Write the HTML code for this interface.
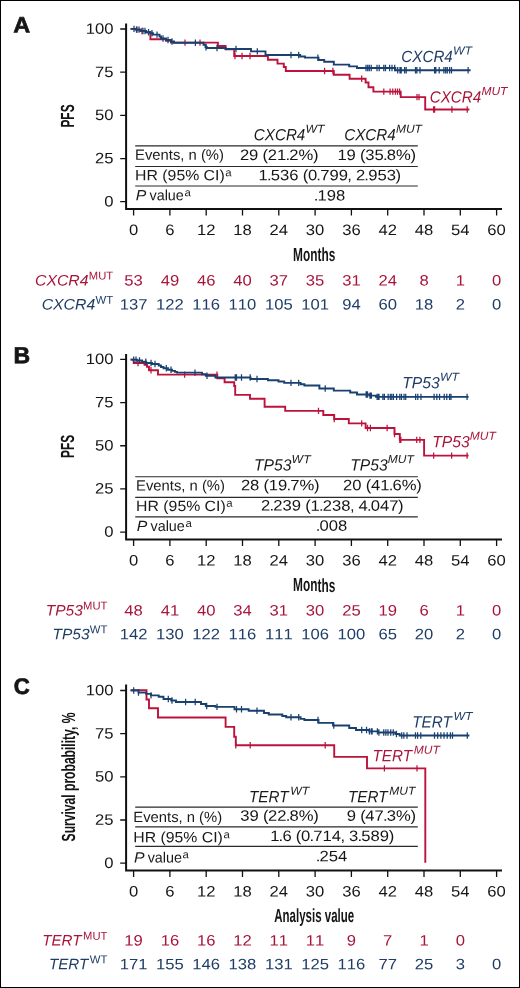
<!DOCTYPE html>
<html lang="en">
<head>
<meta charset="utf-8">
<title>Figure</title>
<style>
html,body{margin:0;padding:0;background:#fff;}
body{width:520px;height:988px;overflow:hidden;}
svg{display:block;will-change:transform;}
text{font-family:"Liberation Sans",sans-serif;font-size:15.1px;}
.pl{font-weight:bold;font-size:22.8px;stroke:#151515;stroke-width:0.7px;stroke-linejoin:round;}
.it{font-style:italic;}
.tb{font-size:14.8px;}
.lab{font-style:italic;font-size:16.2px;}
.rl{font-style:italic;font-size:15.2px;}
.sup{font-size:11.4px;font-style:normal;}
.supi{font-size:11.6px;font-style:italic;}
.cond{font-size:19px;font-weight:bold;}
</style>
</head>
<body>
<svg width="520" height="988" viewBox="0 0 520 988" fill="#151515">
<rect x="0.5" y="0.5" width="519" height="987" fill="#fff" stroke="#000" stroke-width="1"/>
<g>
<text class="pl" transform="translate(13.3 32.6) rotate(0.03) scale(1.03 0.975)">A</text>
<path d="M126.1 23.6V209H502" fill="none" stroke="#111" stroke-width="2"/>
<path d="M120.2 29H126.1M120.2 72.18H126.1M120.2 115.35H126.1M120.2 158.53H126.1M120.2 201.7H126.1M133.6 209V215.6M169.9 209V215.6M206.2 209V215.6M242.5 209V215.6M278.8 209V215.6M315.1 209V215.6M351.4 209V215.6M387.7 209V215.6M424 209V215.6M460.3 209V215.6M496.6 209V215.6" fill="none" stroke="#111" stroke-width="1.3"/>
<text transform="translate(85.75 33.7) rotate(0.03) scale(1.1018 1)" x="0 8.4 16.79">100</text>
<text transform="translate(95 76.88) rotate(0.03) scale(1.1018 1)" x="0 8.4">75</text>
<text transform="translate(95 120.05) rotate(0.03) scale(1.1018 1)" x="0 8.4">50</text>
<text transform="translate(95 163.22) rotate(0.03) scale(1.1018 1)" x="0 8.4">25</text>
<text transform="translate(104.25 206.4) rotate(0.03) scale(1.1018 1)" x="0">0</text>
<text transform="translate(128.97 235) rotate(0.03) scale(1.1018 1)" x="0">0</text>
<text transform="translate(165.27 235) rotate(0.03) scale(1.1018 1)" x="0">6</text>
<text transform="translate(196.95 235) rotate(0.03) scale(1.1018 1)" x="0 8.4">12</text>
<text transform="translate(233.25 235) rotate(0.03) scale(1.1018 1)" x="0 8.4">18</text>
<text transform="translate(269.55 235) rotate(0.03) scale(1.1018 1)" x="0 8.4">24</text>
<text transform="translate(305.85 235) rotate(0.03) scale(1.1018 1)" x="0 8.4">30</text>
<text transform="translate(342.15 235) rotate(0.03) scale(1.1018 1)" x="0 8.4">36</text>
<text transform="translate(378.45 235) rotate(0.03) scale(1.1018 1)" x="0 8.4">42</text>
<text transform="translate(414.75 235) rotate(0.03) scale(1.1018 1)" x="0 8.4">48</text>
<text transform="translate(451.05 235) rotate(0.03) scale(1.1018 1)" x="0 8.4">54</text>
<text transform="translate(487.35 235) rotate(0.03) scale(1.1018 1)" x="0 8.4">60</text>
<text x="314.2" y="261.4" transform="rotate(0.03 314.2 261.4)" class="cond" text-anchor="middle" textLength="42.2" lengthAdjust="spacingAndGlyphs">Months</text>
<text class="cond" text-anchor="middle" textLength="23.2" lengthAdjust="spacingAndGlyphs" transform="translate(74 116) rotate(-90.03)">PFS</text>
<path d="M130.6 28.9H132.8H136V29.6H140.5V31H146V32.2H150.4V39.3H160.5V39.3H161V39.3H166V40.9H171V42.65H217.9V46H225.6V49.3H234.2V56H267.9V59.8H277.5V63.6H283.8V67H285.8V71H333.8V74.8H349.6V78.7H365.6V82.5H368.5V87.2H373.4V91.6H400.7V97.1H425.2V109.5H469.4V109.5" fill="none" stroke="#bb133b" stroke-width="1.9"/>
<path d="M137 26.4V32.8M143 27.8V34.2M185 39.45V45.85M200 39.45V45.85M235 52.8V59.2M242 52.8V59.2M250 52.8V59.2M324.6 67.8V74.2M332.9 67.8V74.2M361.7 75.5V81.9M383.8 88.4V94.8M390.1 88.4V94.8M392.8 88.4V94.8M395.4 88.4V94.8M397.5 88.4V94.8M399.6 88.4V94.8M417 93.9V100.3M419 93.9V100.3M433.6 106.3V112.7M434.6 106.3V112.7M451.9 106.3V112.7M467.2 106.3V112.7" fill="none" stroke="#bb133b" stroke-width="1.25"/>
<path d="M130.6 28.9H132.8H136V29.6H140.5V31H146V32.2H150.5V33.2H153V34.6H159.5V36.5H161V38.5H166V40H171V41.5H174V42.8H203.5V44.8H205.5V47.2H207V48H225.6V49H251V51.4H265.5V55H300.2V56.5H305V57.6H318.5V60H324.2V61.7H333.8V64.6H349.2V66.4H357V68H395.4V70.3H470.6V70.3" fill="none" stroke="#19406f" stroke-width="1.9"/>
<path d="M134 25.7V32.1M136.5 26.4V32.8M139 26.4V32.8M142 27.8V34.2M145 27.8V34.2M148.5 29V35.4M152 30V36.4M157 31.4V37.8M163 35.3V41.7M168 36.8V43.2M172 38.3V44.7M195.4 39.6V46M206 44V50.4M217 44.8V51.2M236 45.8V52.2M257.3 48.2V54.6M291 51.8V58.2M298.7 51.8V58.2M317.9 54.4V60.8M366 64.8V71.2M367.7 64.8V71.2M369.3 64.8V71.2M371.2 64.8V71.2M377 64.8V71.2M379.2 64.8V71.2M383.8 64.8V71.2M385.5 64.8V71.2M389.6 64.8V71.2M392 64.8V71.2M394.7 64.8V71.2M397.7 67.1V73.5M400 67.1V73.5M401.2 67.1V73.5M404.6 67.1V73.5M406.2 67.1V73.5M415.5 67.1V73.5M416.9 67.1V73.5M420 67.1V73.5M434.6 67.1V73.5M435.8 67.1V73.5M439.2 67.1V73.5M443.9 67.1V73.5M445.7 67.1V73.5M447.3 67.1V73.5M449.6 67.1V73.5M451.5 67.1V73.5M468.1 67.1V73.5" fill="none" stroke="#19406f" stroke-width="1.25"/>
<text transform="translate(401.3 61.9) rotate(0.03)" fill="#1d3c66" class="lab"><tspan textLength="51.5" lengthAdjust="spacingAndGlyphs">CXCR4</tspan><tspan class="supi" dx="0.2" dy="-7.5" textLength="19" lengthAdjust="spacingAndGlyphs">WT</tspan></text>
<text transform="translate(429.7 102.4) rotate(0.03)" fill="#a8143a" class="lab"><tspan textLength="51.5" lengthAdjust="spacingAndGlyphs">CXCR4</tspan><tspan class="supi" dx="0.2" dy="-7.5" textLength="26" lengthAdjust="spacingAndGlyphs">MUT</tspan></text>
<path d="M135.2 145.9H417.8M135.2 166.5H417.8M135.2 186H417.8" fill="none" stroke="#2a2a2a" stroke-width="1.1"/>
<text transform="translate(253.8 140.2) rotate(0.03)" fill="#1a1a1a" class="lab"><tspan textLength="51.5" lengthAdjust="spacingAndGlyphs">CXCR4</tspan><tspan class="supi" dx="0.2" dy="-7.5" textLength="19" lengthAdjust="spacingAndGlyphs">WT</tspan></text>
<text transform="translate(344.2 140.2) rotate(0.03)" fill="#1a1a1a" class="lab"><tspan textLength="51.5" lengthAdjust="spacingAndGlyphs">CXCR4</tspan><tspan class="supi" dx="0.2" dy="-7.5" textLength="26" lengthAdjust="spacingAndGlyphs">MUT</tspan></text>
<text x="135.1" y="159.8" transform="rotate(0.03 135.1 159.8)" class="tb" fill="#1a1a1a" textLength="88.8" lengthAdjust="spacingAndGlyphs">Events, n (%)</text>
<text class="tb" transform="translate(135.1 180.2) rotate(0.03)" fill="#1a1a1a"><tspan textLength="89.6" lengthAdjust="spacingAndGlyphs">HR (95% CI)</tspan><tspan class="sup" dx="0.6" dy="-4.1">a</tspan></text>
<text class="tb" transform="translate(135.7 200.3) rotate(0.03)" fill="#1a1a1a"><tspan class="it" textLength="10.55" lengthAdjust="spacingAndGlyphs">P</tspan><tspan dx="3.25" textLength="34.3" lengthAdjust="spacingAndGlyphs">value</tspan><tspan class="sup" dx="0.6" dy="-4.1">a</tspan></text>
<text transform="translate(239.88 159.9) rotate(0.03) scale(1.1018 1)" x="0 8.4 16.78 20.63 25.32 33.72 41.38 44.84 53.24 66.33" font-size="15.1">29 (21.2%)</text>
<text transform="translate(337.38 159.9) rotate(0.03) scale(1.1018 1)" x="0 8.4 16.78 20.63 25.32 33.72 41.38 44.84 53.24 66.33" font-size="15.1">19 (35.8%)</text>
<text transform="translate(258.5 180.2) rotate(0.03) scale(1.1018 1)" x="0 7.66 11.12 19.51 27.91 36.29 40.14 44.84 52.5 55.96 64.35 72.75 80.59 84.22 88.4 96.06 99.52 107.92 116.31 124.37" font-size="15.1">1.536 (0.799, 2.953)</text>
<text transform="translate(314.43 200.4) rotate(0.03) scale(1.1018 1)" x="-0.74 2.72 11.12 19.51" font-size="15.1">.198</text>
<text transform="translate(35 285.5) rotate(0.03)" fill="#a8143a"><tspan class="rl" textLength="53.5" lengthAdjust="spacingAndGlyphs">CXCR4</tspan><tspan class="sup" dx="0.3" dy="-6" textLength="24.3" lengthAdjust="spacingAndGlyphs">MUT</tspan></text>
<text transform="translate(41.7 309.6) rotate(0.03)" fill="#1d3c66"><tspan class="rl" textLength="53.5" lengthAdjust="spacingAndGlyphs">CXCR4</tspan><tspan class="sup" dx="0.3" dy="-6" textLength="17.6" lengthAdjust="spacingAndGlyphs">WT</tspan></text>
<text transform="translate(124.35 285.5) rotate(0.03) scale(1.1018 1)" x="0 8.4" fill="#a8143a">53</text>
<text transform="translate(160.65 285.5) rotate(0.03) scale(1.1018 1)" x="0 8.4" fill="#a8143a">49</text>
<text transform="translate(196.95 285.5) rotate(0.03) scale(1.1018 1)" x="0 8.4" fill="#a8143a">46</text>
<text transform="translate(233.25 285.5) rotate(0.03) scale(1.1018 1)" x="0 8.4" fill="#a8143a">40</text>
<text transform="translate(269.55 285.5) rotate(0.03) scale(1.1018 1)" x="0 8.4" fill="#a8143a">37</text>
<text transform="translate(305.85 285.5) rotate(0.03) scale(1.1018 1)" x="0 8.4" fill="#a8143a">35</text>
<text transform="translate(342.15 285.5) rotate(0.03) scale(1.1018 1)" x="0 8.4" fill="#a8143a">31</text>
<text transform="translate(378.45 285.5) rotate(0.03) scale(1.1018 1)" x="0 8.4" fill="#a8143a">24</text>
<text transform="translate(419.38 285.5) rotate(0.03) scale(1.1018 1)" x="0" fill="#a8143a">8</text>
<text transform="translate(455.67 285.5) rotate(0.03) scale(1.1018 1)" x="0" fill="#a8143a">1</text>
<text transform="translate(491.98 285.5) rotate(0.03) scale(1.1018 1)" x="0" fill="#a8143a">0</text>
<text transform="translate(119.72 309.6) rotate(0.03) scale(1.1018 1)" x="0 8.4 16.79" fill="#1d3c66">137</text>
<text transform="translate(156.02 309.6) rotate(0.03) scale(1.1018 1)" x="0 8.4 16.79" fill="#1d3c66">122</text>
<text transform="translate(192.32 309.6) rotate(0.03) scale(1.1018 1)" x="0 8.4 16.79" fill="#1d3c66">116</text>
<text transform="translate(228.62 309.6) rotate(0.03) scale(1.1018 1)" x="0 8.4 16.79" fill="#1d3c66">110</text>
<text transform="translate(264.92 309.6) rotate(0.03) scale(1.1018 1)" x="0 8.4 16.79" fill="#1d3c66">105</text>
<text transform="translate(301.23 309.6) rotate(0.03) scale(1.1018 1)" x="0 8.4 16.79" fill="#1d3c66">101</text>
<text transform="translate(342.15 309.6) rotate(0.03) scale(1.1018 1)" x="0 8.4" fill="#1d3c66">94</text>
<text transform="translate(378.45 309.6) rotate(0.03) scale(1.1018 1)" x="0 8.4" fill="#1d3c66">60</text>
<text transform="translate(414.75 309.6) rotate(0.03) scale(1.1018 1)" x="0 8.4" fill="#1d3c66">18</text>
<text transform="translate(455.67 309.6) rotate(0.03) scale(1.1018 1)" x="0" fill="#1d3c66">2</text>
<text transform="translate(491.98 309.6) rotate(0.03) scale(1.1018 1)" x="0" fill="#1d3c66">0</text>
</g>
<g>
<text class="pl" transform="translate(13.45 363.2) rotate(0.03) scale(1.01 1.02)">B</text>
<path d="M126.1 354V539.4H502" fill="none" stroke="#111" stroke-width="2"/>
<path d="M120.2 359.4H126.1M120.2 402.57H126.1M120.2 445.75H126.1M120.2 488.92H126.1M120.2 532.1H126.1M133.6 539.4V546M169.9 539.4V546M206.2 539.4V546M242.5 539.4V546M278.8 539.4V546M315.1 539.4V546M351.4 539.4V546M387.7 539.4V546M424 539.4V546M460.3 539.4V546M496.6 539.4V546" fill="none" stroke="#111" stroke-width="1.3"/>
<text transform="translate(85.75 364.1) rotate(0.03) scale(1.1018 1)" x="0 8.4 16.79">100</text>
<text transform="translate(95 407.27) rotate(0.03) scale(1.1018 1)" x="0 8.4">75</text>
<text transform="translate(95 450.45) rotate(0.03) scale(1.1018 1)" x="0 8.4">50</text>
<text transform="translate(95 493.62) rotate(0.03) scale(1.1018 1)" x="0 8.4">25</text>
<text transform="translate(104.25 536.8) rotate(0.03) scale(1.1018 1)" x="0">0</text>
<text transform="translate(128.97 565.4) rotate(0.03) scale(1.1018 1)" x="0">0</text>
<text transform="translate(165.27 565.4) rotate(0.03) scale(1.1018 1)" x="0">6</text>
<text transform="translate(196.95 565.4) rotate(0.03) scale(1.1018 1)" x="0 8.4">12</text>
<text transform="translate(233.25 565.4) rotate(0.03) scale(1.1018 1)" x="0 8.4">18</text>
<text transform="translate(269.55 565.4) rotate(0.03) scale(1.1018 1)" x="0 8.4">24</text>
<text transform="translate(305.85 565.4) rotate(0.03) scale(1.1018 1)" x="0 8.4">30</text>
<text transform="translate(342.15 565.4) rotate(0.03) scale(1.1018 1)" x="0 8.4">36</text>
<text transform="translate(378.45 565.4) rotate(0.03) scale(1.1018 1)" x="0 8.4">42</text>
<text transform="translate(414.75 565.4) rotate(0.03) scale(1.1018 1)" x="0 8.4">48</text>
<text transform="translate(451.05 565.4) rotate(0.03) scale(1.1018 1)" x="0 8.4">54</text>
<text transform="translate(487.35 565.4) rotate(0.03) scale(1.1018 1)" x="0 8.4">60</text>
<text x="314.2" y="591.5" transform="rotate(0.03 314.2 591.5)" class="cond" text-anchor="middle" textLength="42.2" lengthAdjust="spacingAndGlyphs">Months</text>
<text class="cond" text-anchor="middle" textLength="23.2" lengthAdjust="spacingAndGlyphs" transform="translate(74 446.4) rotate(-90.03)">PFS</text>
<path d="M130.6 359.65H132.8H133.7V362.95H144.5V364.75H147V366.75H149V370.25H158V374.65H217.3V378.25H224.6V382.25H234.2V386.05H235.2V394.85H250V398.75H264.6V406.75H285.2V410.85H323.3V415.05H334.2V418.95H348.8V423.35H365.6V428.05H394.5V434.05H399.8V439.85H424.1V455.65H468.6V455.65" fill="none" stroke="#bb133b" stroke-width="1.9"/>
<path d="M138 359.75V366.15M151 367.05V373.45M184.6 371.45V377.85M217 371.45V377.85M318.5 407.65V414.05M334.2 415.75V422.15M361.7 420.15V426.55M367.5 424.85V431.25M370.4 424.85V431.25M387.12 424.85V431.25M394.52 430.85V437.25M399.81 436.65V443.05M400.87 436.65V443.05M416.73 436.65V443.05M419.91 436.65V443.05M433.66 452.45V458.85M451.64 452.45V458.85M467.08 452.45V458.85" fill="none" stroke="#bb133b" stroke-width="1.25"/>
<path d="M130.6 359.65H132.8H137V360.55H142V361.75H146.2V362.95H152V364.05H158.7V365.45H161V367.05H163.5V368.25H168V369.75H172V370.85H175V371.85H177V372.65H202V374.25H205.8V375.75H215.4V377.55H250.6V378.95H267.9V380.25H278.5V381.45H284.2V382.85H300.6V384.25H304.4V385.55H319.4V388.55H333.8V390.65H350.2V392.55H357V394.45H369.4V395.65H376V396.85H468.6V396.85" fill="none" stroke="#19406f" stroke-width="1.9"/>
<path d="M367 391.25V397.65M371 392.45V398.85M379 393.65V400.05M384.4 393.65V400.05M133.7 356.45V362.85M136 356.45V362.85M139.5 357.35V363.75M145.8 358.55V364.95M151 359.75V366.15M155 360.85V367.25M166.3 365.05V371.45M171 366.55V372.95M195 369.45V375.85M207 372.55V378.95M235.2 374.35V380.75M236.5 374.35V380.75M241.5 374.35V380.75M250.2 374.35V380.75M257 375.75V382.15M291 379.65V386.05M298.7 379.65V386.05M325.2 385.35V391.75M366.15 391.25V397.65M367.5 391.25V397.65M370 392.45V398.85M371.35 392.45V398.85M377.12 393.65V400.05M378.46 393.65V400.05M382.88 393.65V400.05M388.17 393.65V400.05M390.29 393.65V400.05M391.77 393.65V400.05M393.46 393.65V400.05M396.64 393.65V400.05M399.81 393.65V400.05M401.5 393.65V400.05M404.04 393.65V400.05M405.73 393.65V400.05M415.67 393.65V400.05M417.79 393.65V400.05M420.96 393.65V400.05M434.08 393.65V400.05M436.83 393.65V400.05M439.58 393.65V400.05M444.23 393.65V400.05M446.77 393.65V400.05M449.52 393.65V400.05M451 393.65V400.05M467.08 393.65V400.05" fill="none" stroke="#19406f" stroke-width="1.25"/>
<text transform="translate(402.3 388.3) rotate(0.03)" fill="#1d3c66" class="lab"><tspan textLength="37.4" lengthAdjust="spacingAndGlyphs">TP53</tspan><tspan class="supi" dx="0.2" dy="-7.5" textLength="19" lengthAdjust="spacingAndGlyphs">WT</tspan></text>
<text transform="translate(432.2 447.3) rotate(0.03)" fill="#a8143a" class="lab"><tspan textLength="37.4" lengthAdjust="spacingAndGlyphs">TP53</tspan><tspan class="supi" dx="0.2" dy="-7.5" textLength="26" lengthAdjust="spacingAndGlyphs">MUT</tspan></text>
<path d="M135.2 476.8H417.8M135.2 497.4H417.8M135.2 516.9H417.8" fill="none" stroke="#2a2a2a" stroke-width="1.1"/>
<text transform="translate(254 470.6) rotate(0.03)" fill="#1a1a1a" class="lab"><tspan textLength="37.4" lengthAdjust="spacingAndGlyphs">TP53</tspan><tspan class="supi" dx="0.2" dy="-7.5" textLength="19" lengthAdjust="spacingAndGlyphs">WT</tspan></text>
<text transform="translate(350.2 470.6) rotate(0.03)" fill="#1a1a1a" class="lab"><tspan textLength="37.4" lengthAdjust="spacingAndGlyphs">TP53</tspan><tspan class="supi" dx="0.2" dy="-7.5" textLength="26" lengthAdjust="spacingAndGlyphs">MUT</tspan></text>
<text x="136.1" y="490.5" transform="rotate(0.03 136.1 490.5)" class="tb" fill="#1a1a1a" textLength="88.8" lengthAdjust="spacingAndGlyphs">Events, n (%)</text>
<text class="tb" transform="translate(136.1 510.9) rotate(0.03)" fill="#1a1a1a"><tspan textLength="89.6" lengthAdjust="spacingAndGlyphs">HR (95% CI)</tspan><tspan class="sup" dx="0.6" dy="-4.1">a</tspan></text>
<text class="tb" transform="translate(136.7 531) rotate(0.03)" fill="#1a1a1a"><tspan class="it" textLength="10.55" lengthAdjust="spacingAndGlyphs">P</tspan><tspan dx="3.25" textLength="34.3" lengthAdjust="spacingAndGlyphs">value</tspan><tspan class="sup" dx="0.6" dy="-4.1">a</tspan></text>
<text transform="translate(240.88 490.3) rotate(0.03) scale(1.1018 1)" x="0 8.4 16.78 20.63 25.32 33.72 41.38 44.84 53.24 66.33" font-size="15.1">28 (19.7%)</text>
<text transform="translate(343.07 490.3) rotate(0.03) scale(1.1018 1)" x="0 8.4 16.78 20.63 25.32 33.72 41.38 44.84 53.24 66.33" font-size="15.1">20 (41.6%)</text>
<text transform="translate(261.1 510.6) rotate(0.03) scale(1.1018 1)" x="0 7.66 11.12 19.51 27.91 36.29 40.14 44.84 52.5 55.96 64.35 72.75 80.59 84.22 88.4 96.06 99.52 107.92 116.31 124.37" font-size="15.1">2.239 (1.238, 4.047)</text>
<text transform="translate(316.62 530.8) rotate(0.03) scale(1.1018 1)" x="-0.74 2.72 11.12 19.51" font-size="15.1">.008</text>
<text transform="translate(45.8 615.5) rotate(0.03)" fill="#a8143a"><tspan class="rl" textLength="37" lengthAdjust="spacingAndGlyphs">TP53</tspan><tspan class="sup" dx="0.3" dy="-6" textLength="24.3" lengthAdjust="spacingAndGlyphs">MUT</tspan></text>
<text transform="translate(52.5 639.3) rotate(0.03)" fill="#1d3c66"><tspan class="rl" textLength="37" lengthAdjust="spacingAndGlyphs">TP53</tspan><tspan class="sup" dx="0.3" dy="-6" textLength="17.6" lengthAdjust="spacingAndGlyphs">WT</tspan></text>
<text transform="translate(124.35 615.5) rotate(0.03) scale(1.1018 1)" x="0 8.4" fill="#a8143a">48</text>
<text transform="translate(160.65 615.5) rotate(0.03) scale(1.1018 1)" x="0 8.4" fill="#a8143a">41</text>
<text transform="translate(196.95 615.5) rotate(0.03) scale(1.1018 1)" x="0 8.4" fill="#a8143a">40</text>
<text transform="translate(233.25 615.5) rotate(0.03) scale(1.1018 1)" x="0 8.4" fill="#a8143a">34</text>
<text transform="translate(269.55 615.5) rotate(0.03) scale(1.1018 1)" x="0 8.4" fill="#a8143a">31</text>
<text transform="translate(305.85 615.5) rotate(0.03) scale(1.1018 1)" x="0 8.4" fill="#a8143a">30</text>
<text transform="translate(342.15 615.5) rotate(0.03) scale(1.1018 1)" x="0 8.4" fill="#a8143a">25</text>
<text transform="translate(378.45 615.5) rotate(0.03) scale(1.1018 1)" x="0 8.4" fill="#a8143a">19</text>
<text transform="translate(419.38 615.5) rotate(0.03) scale(1.1018 1)" x="0" fill="#a8143a">6</text>
<text transform="translate(455.67 615.5) rotate(0.03) scale(1.1018 1)" x="0" fill="#a8143a">1</text>
<text transform="translate(491.98 615.5) rotate(0.03) scale(1.1018 1)" x="0" fill="#a8143a">0</text>
<text transform="translate(119.72 639.3) rotate(0.03) scale(1.1018 1)" x="0 8.4 16.79" fill="#1d3c66">142</text>
<text transform="translate(156.02 639.3) rotate(0.03) scale(1.1018 1)" x="0 8.4 16.79" fill="#1d3c66">130</text>
<text transform="translate(192.32 639.3) rotate(0.03) scale(1.1018 1)" x="0 8.4 16.79" fill="#1d3c66">122</text>
<text transform="translate(228.62 639.3) rotate(0.03) scale(1.1018 1)" x="0 8.4 16.79" fill="#1d3c66">116</text>
<text transform="translate(264.92 639.3) rotate(0.03) scale(1.1018 1)" x="0 8.4 16.79" fill="#1d3c66">111</text>
<text transform="translate(301.23 639.3) rotate(0.03) scale(1.1018 1)" x="0 8.4 16.79" fill="#1d3c66">106</text>
<text transform="translate(337.52 639.3) rotate(0.03) scale(1.1018 1)" x="0 8.4 16.79" fill="#1d3c66">100</text>
<text transform="translate(378.45 639.3) rotate(0.03) scale(1.1018 1)" x="0 8.4" fill="#1d3c66">65</text>
<text transform="translate(414.75 639.3) rotate(0.03) scale(1.1018 1)" x="0 8.4" fill="#1d3c66">20</text>
<text transform="translate(455.67 639.3) rotate(0.03) scale(1.1018 1)" x="0" fill="#1d3c66">2</text>
<text transform="translate(491.98 639.3) rotate(0.03) scale(1.1018 1)" x="0" fill="#1d3c66">0</text>
</g>
<g>
<text class="pl" transform="translate(13.75 693.95) rotate(0.03) scale(0.975 0.99)">C</text>
<path d="M126.1 684.4V870.5H502" fill="none" stroke="#111" stroke-width="2"/>
<path d="M120.2 690.5H126.1M120.2 733.67H126.1M120.2 776.85H126.1M120.2 820.02H126.1M120.2 863.2H126.1M133.6 870.5V877.1M169.9 870.5V877.1M206.2 870.5V877.1M242.5 870.5V877.1M278.8 870.5V877.1M315.1 870.5V877.1M351.4 870.5V877.1M387.7 870.5V877.1M424 870.5V877.1M460.3 870.5V877.1M496.6 870.5V877.1" fill="none" stroke="#111" stroke-width="1.3"/>
<text transform="translate(85.75 695.2) rotate(0.03) scale(1.1018 1)" x="0 8.4 16.79">100</text>
<text transform="translate(95 738.38) rotate(0.03) scale(1.1018 1)" x="0 8.4">75</text>
<text transform="translate(95 781.55) rotate(0.03) scale(1.1018 1)" x="0 8.4">50</text>
<text transform="translate(95 824.73) rotate(0.03) scale(1.1018 1)" x="0 8.4">25</text>
<text transform="translate(104.25 867.9) rotate(0.03) scale(1.1018 1)" x="0">0</text>
<text transform="translate(128.97 896.5) rotate(0.03) scale(1.1018 1)" x="0">0</text>
<text transform="translate(165.27 896.5) rotate(0.03) scale(1.1018 1)" x="0">6</text>
<text transform="translate(196.95 896.5) rotate(0.03) scale(1.1018 1)" x="0 8.4">12</text>
<text transform="translate(233.25 896.5) rotate(0.03) scale(1.1018 1)" x="0 8.4">18</text>
<text transform="translate(269.55 896.5) rotate(0.03) scale(1.1018 1)" x="0 8.4">24</text>
<text transform="translate(305.85 896.5) rotate(0.03) scale(1.1018 1)" x="0 8.4">30</text>
<text transform="translate(342.15 896.5) rotate(0.03) scale(1.1018 1)" x="0 8.4">36</text>
<text transform="translate(378.45 896.5) rotate(0.03) scale(1.1018 1)" x="0 8.4">42</text>
<text transform="translate(414.75 896.5) rotate(0.03) scale(1.1018 1)" x="0 8.4">48</text>
<text transform="translate(451.05 896.5) rotate(0.03) scale(1.1018 1)" x="0 8.4">54</text>
<text transform="translate(487.35 896.5) rotate(0.03) scale(1.1018 1)" x="0 8.4">60</text>
<text x="314.2" y="922.3" transform="rotate(0.03 314.2 922.3)" class="cond" text-anchor="middle" textLength="80" lengthAdjust="spacingAndGlyphs">Analysis value</text>
<text class="cond" text-anchor="middle" textLength="128.8" lengthAdjust="spacingAndGlyphs" transform="translate(75.4 777) rotate(-90.03)">Survival probability, %</text>
<path d="M130.6 690.15H132.8H146.5V699.55H149V708.25H158V717.55H225.6V726.85H234.2V736.75H235.8V745.25H334.2V756.85H367V768.35H425.3V862.85" fill="none" stroke="#bb133b" stroke-width="1.9"/>
<path d="M235.8 742.05V748.45M250.2 742.05V748.45M325.2 742.05V748.45M384.4 765.15V771.55M417 765.15V771.55" fill="none" stroke="#bb133b" stroke-width="1.25"/>
<path d="M130.6 690.55H132.8H138.5V692.55H146.2V693.85H151V695.35H158.7V696.75H163.5V699.05H171.2V700.55H176V702.05H201V704.05H205.8V705.95H215.4V706.85H234.5V709.25H248.7V710.75H264V713.05H268.8V714.55H282.3V715.95H286.2V717.25H300.6V718.85H304.4V720.05H318.5V722.85H333V725.55H349.2V728.05H356V729.95H369.4V731.35H378V732.55H395.4V733.95H399.6V735.45H469.4V735.45" fill="none" stroke="#19406f" stroke-width="1.9"/>
<path d="M133.7 687.35V693.75M138.5 689.35V695.75M151 692.15V698.55M168.3 695.85V702.25M172 697.35V703.75M185.6 698.85V705.25M195.2 698.85V705.25M206.7 702.75V709.15M217 703.65V710.05M236.5 706.05V712.45M241.5 706.05V712.45M257 707.55V713.95M291 714.05V720.45M298.7 714.05V720.45M318 716.85V723.25M333.8 722.35V728.75M361.73 726.75V733.15M366.54 726.75V733.15M369.42 728.15V734.55M371.35 728.15V734.55M372.12 728.15V734.55M377.4 728.15V734.55M378.89 729.35V735.75M383.75 729.35V735.75M385.87 729.35V735.75M387.98 729.35V735.75M390.73 729.35V735.75M393.27 729.35V735.75M396.44 730.75V737.15M401.73 732.25V738.65M403.85 732.25V738.65M407.02 732.25V738.65M415.48 732.25V738.65M417.6 732.25V738.65M420.77 732.25V738.65M434.52 732.25V738.65M437.7 732.25V738.65M440.87 732.25V738.65M444.04 732.25V738.65M447.22 732.25V738.65M450.39 732.25V738.65M452.5 732.25V738.65M467.31 732.25V738.65" fill="none" stroke="#19406f" stroke-width="1.25"/>
<text transform="translate(412.2 727.5) rotate(0.03)" fill="#1d3c66" class="lab"><tspan textLength="39.5" lengthAdjust="spacingAndGlyphs">TERT</tspan><tspan class="supi" dx="1.8" dy="-7.5" textLength="19" lengthAdjust="spacingAndGlyphs">WT</tspan></text>
<text transform="translate(372.5 761.3) rotate(0.03)" fill="#a8143a" class="lab"><tspan textLength="39.5" lengthAdjust="spacingAndGlyphs">TERT</tspan><tspan class="supi" dx="1.8" dy="-7.5" textLength="26" lengthAdjust="spacingAndGlyphs">MUT</tspan></text>
<path d="M135.2 807.1H417.8M135.2 826.9H417.8M135.2 846.4H417.8" fill="none" stroke="#2a2a2a" stroke-width="1.1"/>
<text transform="translate(249 802.2) rotate(0.03)" fill="#1a1a1a" class="lab"><tspan textLength="39.5" lengthAdjust="spacingAndGlyphs">TERT</tspan><tspan class="supi" dx="1.8" dy="-7.5" textLength="19" lengthAdjust="spacingAndGlyphs">WT</tspan></text>
<text transform="translate(348 802.2) rotate(0.03)" fill="#1a1a1a" class="lab"><tspan textLength="39.5" lengthAdjust="spacingAndGlyphs">TERT</tspan><tspan class="supi" dx="1.8" dy="-7.5" textLength="26" lengthAdjust="spacingAndGlyphs">MUT</tspan></text>
<text x="133.3" y="821.9" transform="rotate(0.03 133.3 821.9)" class="tb" fill="#1a1a1a" textLength="88.8" lengthAdjust="spacingAndGlyphs">Events, n (%)</text>
<text class="tb" transform="translate(133.3 842.3) rotate(0.03)" fill="#1a1a1a"><tspan textLength="89.6" lengthAdjust="spacingAndGlyphs">HR (95% CI)</tspan><tspan class="sup" dx="0.6" dy="-4.1">a</tspan></text>
<text class="tb" transform="translate(133.9 862.4) rotate(0.03)" fill="#1a1a1a"><tspan class="it" textLength="10.55" lengthAdjust="spacingAndGlyphs">P</tspan><tspan dx="3.25" textLength="34.3" lengthAdjust="spacingAndGlyphs">value</tspan><tspan class="sup" dx="0.6" dy="-4.1">a</tspan></text>
<text transform="translate(240.18 820.7) rotate(0.03) scale(1.1018 1)" x="0 8.4 16.78 20.63 25.32 33.72 41.38 44.84 53.24 66.33" font-size="15.1">39 (22.8%)</text>
<text transform="translate(346.7 820.7) rotate(0.03) scale(1.1018 1)" x="0 8.38 12.23 16.93 25.32 32.98 36.44 44.84 57.93" font-size="15.1">9 (47.3%)</text>
<text transform="translate(270.15 841) rotate(0.03) scale(1.1018 1)" x="0 7.66 11.12 19.5 23.35 28.05 35.7 39.16 47.56 55.96 63.8 67.43 71.61 79.27 82.73 91.13 99.52 107.58" font-size="15.1">1.6 (0.714, 3.589)</text>
<text transform="translate(316.62 861.2) rotate(0.03) scale(1.1018 1)" x="-0.74 2.72 11.12 19.51" font-size="15.1">.254</text>
<text transform="translate(42.3 945.6) rotate(0.03)" fill="#a8143a"><tspan class="rl" textLength="39.2" lengthAdjust="spacingAndGlyphs">TERT</tspan><tspan class="sup" dx="1.6" dy="-6" textLength="24.3" lengthAdjust="spacingAndGlyphs">MUT</tspan></text>
<text transform="translate(49 969.3) rotate(0.03)" fill="#1d3c66"><tspan class="rl" textLength="39.2" lengthAdjust="spacingAndGlyphs">TERT</tspan><tspan class="sup" dx="1.6" dy="-6" textLength="17.6" lengthAdjust="spacingAndGlyphs">WT</tspan></text>
<text transform="translate(124.35 945.6) rotate(0.03) scale(1.1018 1)" x="0 8.4" fill="#a8143a">19</text>
<text transform="translate(160.65 945.6) rotate(0.03) scale(1.1018 1)" x="0 8.4" fill="#a8143a">16</text>
<text transform="translate(196.95 945.6) rotate(0.03) scale(1.1018 1)" x="0 8.4" fill="#a8143a">16</text>
<text transform="translate(233.25 945.6) rotate(0.03) scale(1.1018 1)" x="0 8.4" fill="#a8143a">12</text>
<text transform="translate(269.55 945.6) rotate(0.03) scale(1.1018 1)" x="0 8.4" fill="#a8143a">11</text>
<text transform="translate(305.85 945.6) rotate(0.03) scale(1.1018 1)" x="0 8.4" fill="#a8143a">11</text>
<text transform="translate(346.77 945.6) rotate(0.03) scale(1.1018 1)" x="0" fill="#a8143a">9</text>
<text transform="translate(383.07 945.6) rotate(0.03) scale(1.1018 1)" x="0" fill="#a8143a">7</text>
<text transform="translate(419.38 945.6) rotate(0.03) scale(1.1018 1)" x="0" fill="#a8143a">1</text>
<text transform="translate(455.67 945.6) rotate(0.03) scale(1.1018 1)" x="0" fill="#a8143a">0</text>
<text transform="translate(119.72 969.3) rotate(0.03) scale(1.1018 1)" x="0 8.4 16.79" fill="#1d3c66">171</text>
<text transform="translate(156.02 969.3) rotate(0.03) scale(1.1018 1)" x="0 8.4 16.79" fill="#1d3c66">155</text>
<text transform="translate(192.32 969.3) rotate(0.03) scale(1.1018 1)" x="0 8.4 16.79" fill="#1d3c66">146</text>
<text transform="translate(228.62 969.3) rotate(0.03) scale(1.1018 1)" x="0 8.4 16.79" fill="#1d3c66">138</text>
<text transform="translate(264.92 969.3) rotate(0.03) scale(1.1018 1)" x="0 8.4 16.79" fill="#1d3c66">131</text>
<text transform="translate(301.23 969.3) rotate(0.03) scale(1.1018 1)" x="0 8.4 16.79" fill="#1d3c66">125</text>
<text transform="translate(337.52 969.3) rotate(0.03) scale(1.1018 1)" x="0 8.4 16.79" fill="#1d3c66">116</text>
<text transform="translate(378.45 969.3) rotate(0.03) scale(1.1018 1)" x="0 8.4" fill="#1d3c66">77</text>
<text transform="translate(414.75 969.3) rotate(0.03) scale(1.1018 1)" x="0 8.4" fill="#1d3c66">25</text>
<text transform="translate(455.67 969.3) rotate(0.03) scale(1.1018 1)" x="0" fill="#1d3c66">3</text>
<text transform="translate(491.98 969.3) rotate(0.03) scale(1.1018 1)" x="0" fill="#1d3c66">0</text>
</g>
</svg>
</body>
</html>
